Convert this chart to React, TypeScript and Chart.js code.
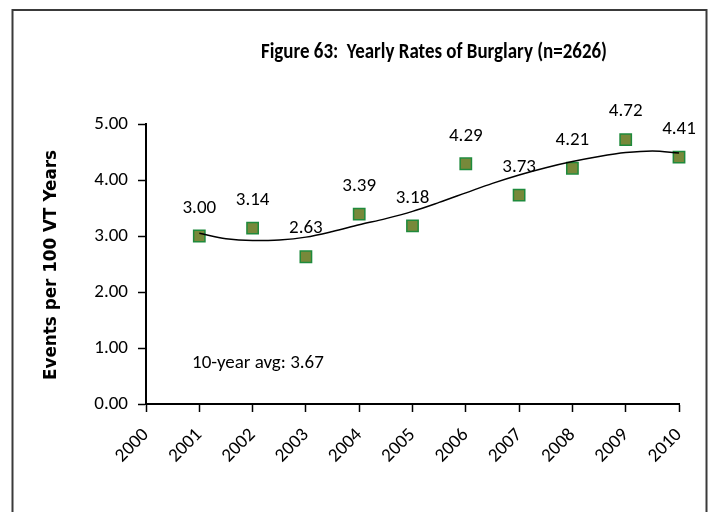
import React, { useEffect, useRef } from "react";
import { Chart, registerables } from "chart.js";

Chart.register(...registerables);

const titleText = "Figure 63:  Yearly Rates of Burglary (n=2626)";
const yAxisTitle = "Events per 100 VT Years";
const avgText = "10-year avg: 3.67";

const years = [2001, 2002, 2003, 2004, 2005, 2006, 2007, 2008, 2009, 2010];
const rates = [3.0, 3.14, 2.63, 3.39, 3.18, 4.29, 3.73, 4.21, 4.72, 4.41];

const trendYears = [
  2001, 2001.5, 2002, 2002.5, 2003, 2003.5, 2004, 2004.5, 2005, 2005.5,
  2006, 2006.5, 2007, 2007.5, 2008, 2008.5, 2009, 2009.5, 2010,
];
const trendValues = [
  3.05, 2.95, 2.92, 2.93, 2.98, 3.08, 3.2, 3.31, 3.44, 3.6,
  3.77, 3.94, 4.09, 4.22, 4.33, 4.42, 4.49, 4.52, 4.48,
];

const xMin = 2000;
const xMax = 2010;
const yMin = 0;
const yMax = 5;

const FONT = "Carlito, Lato, 'Liberation Sans', sans-serif";
const AXIS_TITLE_FONT = "'DejaVu Sans', Verdana, sans-serif";

const decorPlugin = {
  id: "decor",
  beforeDraw(chart: any) {
    const ctx = chart.ctx;
    ctx.save();
    ctx.fillStyle = "#ffffff";
    ctx.fillRect(0, 0, chart.width, chart.height);
    ctx.strokeStyle = "#3a3a3a";
    ctx.lineWidth = 2;
    ctx.strokeRect(12.5, 10, 694, 540);
    ctx.restore();
  },
  afterDraw(chart: any) {
    const ctx = chart.ctx;
    ctx.save();
    ctx.fillStyle = "#000000";
    // title
    ctx.font = `bold 23px ${FONT}`;
    ctx.textAlign = "center";
    ctx.textBaseline = "middle";
    ctx.fillText(titleText, 434, 52, 346);
    // y axis title
    ctx.save();
    ctx.translate(52, 265);
    ctx.rotate(-Math.PI / 2);
    ctx.font = `bold 17px ${AXIS_TITLE_FONT}`;
    ctx.fillText(yAxisTitle, 0, 0, 230);
    ctx.restore();
    // average text
    ctx.font = `19px ${FONT}`;
    ctx.textAlign = "left";
    ctx.fillText(avgText, 192, 363, 133);
    ctx.restore();
  },
  afterDatasetsDraw(chart: any) {
    const ctx = chart.ctx;
    const meta = chart.getDatasetMeta(1);
    ctx.save();
    ctx.fillStyle = "#000000";
    ctx.font = `19px ${FONT}`;
    ctx.textAlign = "center";
    ctx.textBaseline = "middle";
    meta.data.forEach((pt: any, i: number) => {
      ctx.fillText(rates[i].toFixed(2), pt.x, pt.y - 28);
    });
    ctx.restore();
  },
};

export default function App() {
  const ref = useRef<HTMLCanvasElement>(null);
  useEffect(() => {
    if (!ref.current) return;
    const chart = new Chart(ref.current, {
      type: "scatter",
      data: {
        datasets: [
          {
            label: "Trend",
            data: trendYears.map((x, i) => ({ x, y: trendValues[i] })),
            showLine: true,
            borderColor: "#000000",
            borderWidth: 1.5,
            pointRadius: 0,
            tension: 0.4,
            cubicInterpolationMode: "monotone",
            clip: false,
          } as any,
          {
            label: "Rate",
            data: years.map((x, i) => ({ x, y: rates[i] })),
            pointStyle: "rect",
            pointRadius: 8,
            backgroundColor: "#77893A",
            borderColor: "#1F8A3C",
            borderWidth: 1.5,
            showLine: false,
            clip: false,
          } as any,
        ],
      },
      options: {
        animation: false,
        responsive: false,
        events: [],
        layout: {
          autoPadding: false,
          padding: { left: 0, top: 124, right: 31, bottom: 0 },
        } as any,
        plugins: {
          legend: { display: false },
          tooltip: { enabled: false },
          title: { display: false },
        },
        scales: {
          x: {
            type: "linear",
            min: xMin,
            max: xMax,
            afterFit: (s: any) => {
              s.height = 108;
            },
            border: { color: "#000000", width: 2 },
            grid: {
              drawOnChartArea: false,
              drawTicks: true,
              tickLength: 8,
              tickColor: "#000000",
              tickWidth: 1.5,
            },
            ticks: {
              stepSize: 1,
              minRotation: 45,
              maxRotation: 45,
              padding: 12,
              color: "#000000",
              font: { family: FONT, size: 19 },
              callback: (v: any) => String(v),
            },
          },
          y: {
            type: "linear",
            min: yMin,
            max: yMax,
            afterFit: (s: any) => {
              s.width = 146;
            },
            border: { color: "#000000", width: 2 },
            grid: {
              drawOnChartArea: false,
              drawTicks: true,
              tickLength: 8,
              tickColor: "#000000",
              tickWidth: 1.5,
            },
            ticks: {
              stepSize: 1,
              padding: 10,
              color: "#000000",
              font: { family: FONT, size: 19 },
              callback: (v: any) => Number(v).toFixed(2),
            },
          },
        },
      },
      plugins: [decorPlugin],
    });
    return () => chart.destroy();
  }, []);
  return (
    <canvas
      ref={ref}
      width={710}
      height={512}
      style={{ position: "absolute", left: 0, top: 0, width: 710, height: 512 }}
    />
  );
}
